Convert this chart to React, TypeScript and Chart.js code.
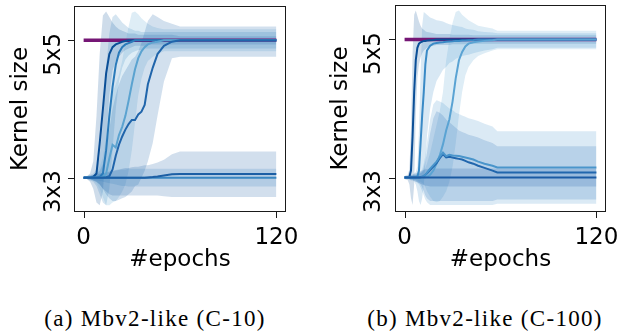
import React, { useEffect, useRef } from 'react';
import { Chart, registerables } from 'chart.js';
Chart.register(...registerables);

const FONT = "'DejaVu Sans', sans-serif";
const FS = 23;

// ---------- shared ----------
const xTickValues = [0, 120];
const xTickLabels = ['0', '120'];
const yTickValues = [0, 1];
const yTickLabels = ['3x3', '5x5'];
const purpleEpochs = [0, 120];
const purpleValues = [1, 1];

// ---------- (a) Mbv2-like (C-10) ----------
const epochsA = [0, 2, 4, 6, 8, 10, 12, 14, 16, 18, 20, 22, 24, 26, 28, 30, 32, 34, 36, 38, 40, 43, 46, 50, 55, 60, 120];
const aR1 = [0, 0, 0, 0.005, 0.03, 0.25, 0.5, 0.76, 0.9, 0.95, 0.97, 0.98, 0.99, 0.995, 1, 1, 1, 1, 1, 1, 1, 1, 1, 1, 1, 1, 1];
const aR1Up = [0.01, 0.01, 0.03, 0.12, 0.45, 0.9, 1.18, 1.21, 1.17, 1.13, 1.1, 1.08, 1.07, 1.06, 1.05, 1.05, 1.05, 1.04, 1.04, 1.04, 1.04, 1.04, 1.04, 1.04, 1.04, 1.03, 1.03];
const aR1Lo = [-0.01, -0.01, -0.03, -0.08, -0.18, -0.2, -0.1, 0.25, 0.6, 0.78, 0.85, 0.88, 0.91, 0.93, 0.94, 0.95, 0.96, 0.96, 0.96, 0.96, 0.97, 0.97, 0.97, 0.97, 0.97, 0.97, 0.97];
const aR2 = [0, 0, 0, 0, 0, 0.005, 0.03, 0.2, 0.45, 0.66, 0.82, 0.91, 0.95, 0.97, 0.98, 0.99, 1, 1, 1, 1, 1, 1, 1, 1, 1, 1, 1];
const aR2Up = [0.01, 0.01, 0.02, 0.03, 0.06, 0.15, 0.4, 0.8, 1.05, 1.17, 1.19, 1.16, 1.13, 1.11, 1.09, 1.08, 1.07, 1.07, 1.06, 1.06, 1.06, 1.06, 1.06, 1.06, 1.06, 1.06, 1.06];
const aR2Lo = [-0.01, -0.01, -0.02, -0.03, -0.06, -0.12, -0.18, -0.2, -0.08, 0.2, 0.5, 0.7, 0.8, 0.86, 0.89, 0.91, 0.92, 0.93, 0.93, 0.94, 0.94, 0.94, 0.94, 0.94, 0.94, 0.94, 0.94];
const aR3 = [0, 0, 0, 0, 0, 0, 0.005, 0.03, 0.14, 0.24, 0.22, 0.31, 0.37, 0.45, 0.56, 0.68, 0.79, 0.87, 0.92, 0.95, 0.97, 0.985, 0.99, 1, 1, 1, 1];
const aR3Up = [0.01, 0.01, 0.01, 0.02, 0.04, 0.08, 0.15, 0.3, 0.5, 0.62, 0.68, 0.75, 0.85, 0.98, 1.1, 1.2, 1.21, 1.19, 1.16, 1.14, 1.12, 1.1, 1.09, 1.08, 1.08, 1.08, 1.08];
const aR3Lo = [-0.01, -0.01, -0.01, -0.02, -0.04, -0.08, -0.14, -0.2, -0.2, -0.18, -0.17, -0.14, -0.1, -0.05, 0.05, 0.2, 0.4, 0.6, 0.72, 0.8, 0.85, 0.88, 0.9, 0.92, 0.92, 0.92, 0.92];
const aR4 = [0, 0, 0, 0, 0, 0, 0, 0.003, 0.01, 0.06, 0.16, 0.24, 0.3, 0.35, 0.39, 0.42, 0.42, 0.46, 0.48, 0.53, 0.68, 0.8, 0.9, 0.96, 0.99, 1, 1];
const aR4Up = [0.01, 0.01, 0.01, 0.02, 0.03, 0.05, 0.1, 0.2, 0.35, 0.5, 0.6, 0.68, 0.74, 0.78, 0.82, 0.86, 0.88, 0.92, 0.98, 1.06, 1.14, 1.19, 1.17, 1.14, 1.12, 1.1, 1.1];
const aR4Lo = [-0.01, -0.01, -0.01, -0.02, -0.03, -0.05, -0.08, -0.12, -0.15, -0.17, -0.17, -0.16, -0.15, -0.14, -0.12, -0.1, -0.06, -0.05, 0, 0.05, 0.12, 0.25, 0.45, 0.7, 0.87, 0.88, 0.88];
const aF1 = [0, 0, 0, 0, 0, 0, 0, 0, 0, 0, 0, 0, 0, 0, 0, 0, 0, 0, 0, 0, 0.002, 0.004, 0.008, 0.015, 0.024, 0.027, 0.027];
const aF1Up = [0.005, 0.01, 0.015, 0.02, 0.025, 0.03, 0.035, 0.04, 0.045, 0.05, 0.055, 0.06, 0.065, 0.07, 0.07, 0.075, 0.08, 0.08, 0.085, 0.09, 0.09, 0.1, 0.11, 0.13, 0.17, 0.19, 0.19];
const aF1Lo = [-0.005, -0.01, -0.015, -0.02, -0.03, -0.05, -0.08, -0.1, -0.12, -0.13, -0.13, -0.13, -0.13, -0.13, -0.13, -0.13, -0.13, -0.13, -0.13, -0.13, -0.13, -0.13, -0.13, -0.135, -0.14, -0.14, -0.14];
const aF2 = [0, 0, 0, 0, 0, 0, 0, 0, 0, 0, 0, 0, 0, 0, 0, 0, 0, 0, 0, 0, 0, 0, 0, 0, 0, 0, 0];
const aF2Up = [0.005, 0.01, 0.01, 0.015, 0.02, 0.025, 0.03, 0.035, 0.04, 0.045, 0.05, 0.055, 0.06, 0.06, 0.065, 0.065, 0.065, 0.065, 0.065, 0.065, 0.065, 0.065, 0.065, 0.065, 0.065, 0.065, 0.065];
const aF2Lo = [-0.005, -0.01, -0.01, -0.015, -0.02, -0.025, -0.03, -0.035, -0.04, -0.045, -0.05, -0.055, -0.06, -0.06, -0.065, -0.065, -0.065, -0.065, -0.065, -0.065, -0.065, -0.065, -0.065, -0.065, -0.065, -0.065, -0.065];

// ---------- (b) Mbv2-like (C-100) ----------
const epochsB = [0, 2, 3, 4, 5, 6, 7, 8, 9, 10, 11, 12, 13, 14, 16, 18, 20, 22, 24, 26, 28, 30, 32, 34, 36, 38, 40, 43, 46, 50, 55, 58, 120];
const bR1 = [0, 0, 0.005, 0.05, 0.3, 0.62, 0.85, 0.94, 0.97, 0.98, 0.985, 0.99, 0.99, 0.992, 0.995, 0.997, 1, 1, 1, 1, 1, 1, 1, 1, 1, 1, 1, 1, 1, 1, 1, 1, 1];
const bR1Up = [0.01, 0.02, 0.06, 0.35, 0.9, 1.18, 1.21, 1.17, 1.13, 1.1, 1.08, 1.07, 1.06, 1.055, 1.05, 1.045, 1.04, 1.04, 1.04, 1.04, 1.04, 1.035, 1.035, 1.035, 1.035, 1.035, 1.035, 1.03, 1.03, 1.03, 1.03, 1.03, 1.03];
const bR1Lo = [-0.01, -0.02, -0.05, -0.15, -0.2, -0.05, 0.45, 0.72, 0.82, 0.87, 0.9, 0.92, 0.93, 0.94, 0.95, 0.955, 0.96, 0.96, 0.96, 0.96, 0.96, 0.965, 0.965, 0.965, 0.965, 0.965, 0.965, 0.97, 0.97, 0.97, 0.97, 0.97, 0.97];
const bR2 = [0, 0, 0, 0, 0, 0, 0, 0.005, 0.05, 0.25, 0.45, 0.62, 0.82, 0.92, 0.955, 0.97, 0.975, 0.978, 0.98, 0.983, 0.985, 0.987, 0.99, 0.99, 0.992, 0.993, 0.995, 0.997, 1, 1, 1, 1, 1];
const bR2Up = [0.01, 0.01, 0.01, 0.02, 0.02, 0.03, 0.04, 0.08, 0.35, 0.75, 1.1, 1.2, 1.19, 1.18, 1.16, 1.15, 1.14, 1.135, 1.13, 1.12, 1.11, 1.105, 1.1, 1.095, 1.09, 1.08, 1.075, 1.07, 1.06, 1.055, 1.05, 1.045, 1.045];
const bR2Lo = [-0.01, -0.01, -0.01, -0.02, -0.02, -0.03, -0.05, -0.1, -0.17, -0.2, -0.15, -0.05, 0.1, 0.3, 0.5, 0.62, 0.7, 0.74, 0.78, 0.8, 0.83, 0.84, 0.86, 0.87, 0.88, 0.885, 0.89, 0.9, 0.91, 0.92, 0.93, 0.94, 0.94];
const bR3 = [0, 0, 0, 0, 0, 0, 0, 0, 0, 0, 0, 0, 0.002, 0.005, 0.02, 0.05, 0.1, 0.16, 0.24, 0.34, 0.42, 0.55, 0.72, 0.85, 0.91, 0.95, 0.97, 0.98, 0.985, 0.99, 0.995, 1, 1];
const bR3Up = [0.01, 0.01, 0.01, 0.01, 0.01, 0.02, 0.02, 0.02, 0.03, 0.03, 0.04, 0.05, 0.07, 0.1, 0.18, 0.28, 0.38, 0.48, 0.62, 0.85, 1.0, 1.12, 1.2, 1.21, 1.18, 1.16, 1.14, 1.12, 1.1, 1.09, 1.08, 1.063, 1.063];
const bR3Lo = [-0.01, -0.01, -0.01, -0.01, -0.01, -0.02, -0.02, -0.02, -0.03, -0.03, -0.04, -0.05, -0.07, -0.1, -0.14, -0.17, -0.18, -0.17, -0.14, -0.1, -0.03, 0.08, 0.25, 0.45, 0.62, 0.74, 0.8, 0.85, 0.88, 0.9, 0.92, 0.93, 0.93];
const bR4 = [0, 0, 0, 0, 0, 0, 0, 0, 0, 0.002, 0.005, 0.01, 0.02, 0.035, 0.065, 0.09, 0.115, 0.15, 0.18, 0.155, 0.165, 0.16, 0.158, 0.155, 0.15, 0.145, 0.14, 0.13, 0.115, 0.1, 0.085, 0.073, 0.073];
const bR4Up = [0.01, 0.01, 0.01, 0.01, 0.015, 0.02, 0.02, 0.025, 0.03, 0.04, 0.06, 0.1, 0.16, 0.25, 0.42, 0.53, 0.56, 0.55, 0.54, 0.52, 0.5, 0.49, 0.47, 0.46, 0.45, 0.44, 0.43, 0.42, 0.41, 0.39, 0.37, 0.335, 0.335];
const bR4Lo = [-0.01, -0.01, -0.01, -0.01, -0.015, -0.02, -0.03, -0.04, -0.05, -0.07, -0.1, -0.13, -0.16, -0.18, -0.2, -0.2, -0.2, -0.2, -0.2, -0.2, -0.2, -0.2, -0.2, -0.2, -0.2, -0.2, -0.2, -0.2, -0.2, -0.2, -0.2, -0.19, -0.19];
const bR5 = [0, 0, 0, 0, 0, 0, 0, 0, 0, 0.002, 0.005, 0.01, 0.02, 0.03, 0.055, 0.08, 0.105, 0.14, 0.17, 0.145, 0.15, 0.145, 0.14, 0.135, 0.13, 0.12, 0.11, 0.1, 0.085, 0.07, 0.05, 0.036, 0.036];
const bR5Up = [0.01, 0.01, 0.01, 0.01, 0.01, 0.015, 0.02, 0.02, 0.025, 0.03, 0.04, 0.07, 0.12, 0.18, 0.32, 0.43, 0.48, 0.47, 0.45, 0.42, 0.4, 0.38, 0.36, 0.34, 0.33, 0.32, 0.31, 0.3, 0.29, 0.27, 0.25, 0.226, 0.226];
const bR5Lo = [-0.01, -0.01, -0.01, -0.01, -0.01, -0.015, -0.02, -0.03, -0.04, -0.05, -0.07, -0.1, -0.13, -0.15, -0.17, -0.17, -0.17, -0.17, -0.17, -0.17, -0.17, -0.17, -0.17, -0.17, -0.17, -0.17, -0.17, -0.17, -0.17, -0.17, -0.17, -0.16, -0.16];
const bF1 = [0, 0, 0, 0, 0, 0, 0, 0, 0, 0, 0, 0, 0, 0, 0, 0, 0, 0, 0, 0, 0, 0, 0, 0, 0, 0, 0, 0, 0, 0, 0, 0, 0];
const bF1Up = [0.01, 0.01, 0.015, 0.02, 0.02, 0.025, 0.03, 0.035, 0.04, 0.045, 0.05, 0.055, 0.06, 0.06, 0.065, 0.065, 0.065, 0.065, 0.065, 0.065, 0.065, 0.065, 0.065, 0.065, 0.065, 0.065, 0.065, 0.065, 0.065, 0.065, 0.065, 0.065, 0.065];
const bF1Lo = [-0.01, -0.01, -0.015, -0.02, -0.02, -0.025, -0.03, -0.035, -0.04, -0.045, -0.05, -0.055, -0.06, -0.06, -0.065, -0.065, -0.065, -0.065, -0.065, -0.065, -0.065, -0.065, -0.065, -0.065, -0.065, -0.065, -0.065, -0.065, -0.065, -0.065, -0.065, -0.065, -0.065];

type Series = { mean: number[]; up: number[]; lo: number[]; color: string };

const seriesA: Series[] = [
  { mean: aF1, up: aF1Up, lo: aF1Lo, color: '#1c5fa5' },
  { mean: aF2, up: aF2Up, lo: aF2Lo, color: '#3a87c2' },
  { mean: aR4, up: aR4Up, lo: aR4Lo, color: '#2065ab' },
  { mean: aR3, up: aR3Up, lo: aR3Lo, color: '#5ba3d0' },
  { mean: aR2, up: aR2Up, lo: aR2Lo, color: '#2b7bba' },
  { mean: aR1, up: aR1Up, lo: aR1Lo, color: '#0b4f97' },
];
const seriesB: Series[] = [
  { mean: bF1, up: bF1Up, lo: bF1Lo, color: '#1b5aa3' },
  { mean: bR4, up: bR4Up, lo: bR4Lo, color: '#4a95cb' },
  { mean: bR5, up: bR5Up, lo: bR5Lo, color: '#2166ad' },
  { mean: bR3, up: bR3Up, lo: bR3Lo, color: '#5aa3d3' },
  { mean: bR2, up: bR2Up, lo: bR2Lo, color: '#3a8ac6' },
  { mean: bR1, up: bR1Up, lo: bR1Lo, color: '#0b4f97' },
];

function rgba(hex: string, a: number) {
  const n = parseInt(hex.slice(1), 16);
  return `rgba(${(n >> 16) & 255},${(n >> 8) & 255},${n & 255},${a})`;
}
function pts(xs: number[], ys: number[]) {
  return xs.map((x, i) => ({ x, y: ys[i] }));
}

function buildDatasets(epochs: number[], series: Series[]) {
  const ds: any[] = [];
  series.forEach((s) => {
    ds.push({ data: pts(epochs, s.lo), borderWidth: 0, borderColor: 'rgba(0,0,0,0)', pointRadius: 0, fill: false, order: 3 });
    ds.push({ data: pts(epochs, s.up), borderWidth: 0, borderColor: 'rgba(0,0,0,0)', pointRadius: 0, fill: '-1', backgroundColor: rgba(s.color, 0.2), order: 3 });
  });
  ds.push({ data: pts(purpleEpochs, purpleValues), borderColor: '#751675', borderWidth: 3.5, pointRadius: 0, fill: false, order: 2 });
  series.forEach((s) => {
    ds.push({ data: pts(epochs, s.mean), borderColor: s.color, borderWidth: 2, pointRadius: 0, fill: false, order: 1 });
  });
  return ds;
}

const framePlugin = {
  id: 'frame',
  afterDraw(chart: any, _args: any, opts: any) {
    const { ctx, chartArea: a, scales } = chart;
    ctx.save();
    ctx.strokeStyle = '#1a1a1a';
    ctx.lineWidth = 1;
    ctx.strokeRect(a.left + 0.5, a.top + 0.5, a.right - a.left - 1, a.bottom - a.top - 1);
    ctx.beginPath();
    xTickValues.forEach((v) => {
      const px = Math.round(scales.x.getPixelForValue(v)) + 0.5;
      ctx.moveTo(px, a.bottom);
      ctx.lineTo(px, a.bottom + 6);
    });
    yTickValues.forEach((v) => {
      const py = Math.round(scales.y.getPixelForValue(v)) + 0.5;
      ctx.moveTo(a.left, py);
      ctx.lineTo(a.left - 6, py);
    });
    ctx.stroke();
    ctx.fillStyle = '#000';
    ctx.font = `${FS}px ${FONT}`;
    ctx.textAlign = 'center';
    ctx.textBaseline = 'alphabetic';
    xTickValues.forEach((v, i) => {
      ctx.fillText(xTickLabels[i], scales.x.getPixelForValue(v), 244);
    });
    yTickValues.forEach((v, i) => {
      const py = scales.y.getPixelForValue(v);
      ctx.save();
      ctx.translate(opts.labelX, py + 14);
      ctx.rotate(-Math.PI / 2);
      ctx.fillText(yTickLabels[i], 0, 0);
      ctx.restore();
    });
    ctx.restore();
  },
};

function Panel(props: { epochs: number[]; series: Series[]; left: number; width: number; areaLeft: number; padRight: number; padTop: number; titlePad: number; labelX: number }) {
  const ref = useRef<HTMLCanvasElement>(null);
  useEffect(() => {
    const font = { family: FONT, size: FS };
    const chart = new Chart(ref.current as HTMLCanvasElement, {
      type: 'line',
      data: { datasets: buildDatasets(props.epochs, props.series) },
      options: {
        animation: false,
        responsive: false,
        devicePixelRatio: 1,
        layout: { padding: { left: 0, right: props.padRight, top: props.padTop, bottom: 0 } },
        plugins: { legend: { display: false }, tooltip: { enabled: false }, frame: { labelX: props.labelX } } as any,
        scales: {
          x: {
            type: 'linear',
            min: -6,
            max: 126,
            afterBuildTicks: (s: any) => { s.ticks = xTickValues.map((v) => ({ value: v })); },
            afterFit: (s: any) => { s.height = 78; },
            ticks: { display: false },
            grid: { display: false, drawTicks: false },
            border: { display: false },
            title: { display: true, text: '#epochs', font, color: '#000', padding: { top: 0, bottom: 16.2 } },
          },
          y: {
            type: 'linear',
            min: -0.25,
            max: 1.25,
            afterBuildTicks: (s: any) => { s.ticks = yTickValues.map((v) => ({ value: v })); },
            afterFit: (s: any) => { s.width = props.areaLeft; },
            ticks: { display: false },
            grid: { display: false, drawTicks: false },
            border: { display: false },
            title: { display: true, text: 'Kernel size', font, color: '#000', padding: { top: props.titlePad, bottom: 0 } },
          },
        },
      } as any,
      plugins: [framePlugin],
    });
    return () => chart.destroy();
  }, []);
  return (
    <canvas ref={ref} width={props.width} height={290} style={{ position: 'absolute', left: props.left, top: 0, width: props.width, height: 290 }} />
  );
}

const captionStyle: React.CSSProperties = {
  position: 'absolute',
  top: 305,
  fontFamily: "'Liberation Serif', 'DejaVu Serif', serif",
  fontSize: 23,
  letterSpacing: '1.3px',
  lineHeight: '28px',
  color: '#000',
  textAlign: 'center',
  whiteSpace: 'nowrap',
};

export default function App() {
  return (
    <div style={{ position: 'absolute', left: 0, top: 0, width: 621, height: 333, background: '#fff', overflow: 'hidden' }}>
      <Panel epochs={epochsA} series={seriesA} left={0} width={300} areaLeft={74} padRight={14} padTop={6} titlePad={7.7} labelX={60} />
      <Panel epochs={epochsB} series={seriesB} left={310} width={311} areaLeft={85} padRight={15} padTop={5} titlePad={17.7} labelX={70} />
      <div style={{ ...captionStyle, left: 25, width: 260 }}>(a) Mbv2-like (C-10)</div>
      <div style={{ ...captionStyle, left: 350, width: 270 }}>(b) Mbv2-like (C-100)</div>
    </div>
  );
}
